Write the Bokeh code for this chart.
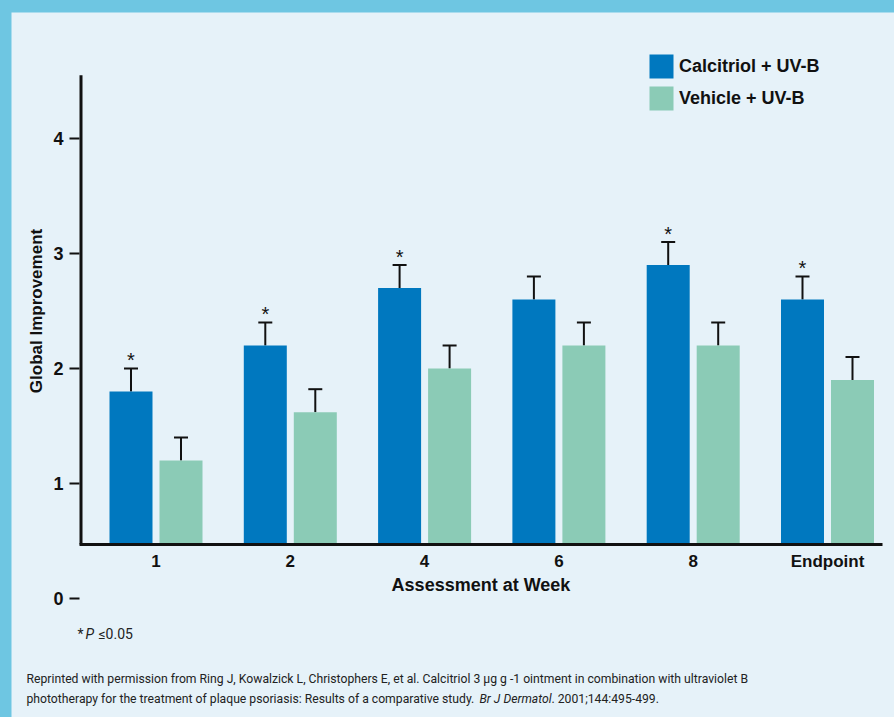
import numpy as np
from bokeh.plotting import figure
from bokeh.models import (ColumnDataSource, FixedTicker, Whisker, TeeHead, Label,
                          Legend, LegendItem, Range1d)
from bokeh.layouts import column
from bokeh.embed import file_html
from bokeh.resources import INLINE
from bokeh.core.properties import value

# ---- data ----
weeks = ["1", "2", "4", "6", "8", "Endpoint"]
calcitriol = [1.8, 2.2, 2.7, 2.6, 2.9, 2.6]
calcitriol_err = [0.2, 0.2, 0.2, 0.2, 0.2, 0.2]
vehicle = [1.2, 1.62, 2.0, 2.2, 2.2, 1.9]
vehicle_err = [0.2, 0.2, 0.2, 0.2, 0.2, 0.2]
significant = [True, True, True, False, True, True]
y_ticks = [0, 1, 2, 3, 4]
series_names = ["Calcitriol + UV-B", "Vehicle + UV-B"]
y_title = "Global Improvement"
x_title = "Assessment at Week"
footnote_sig = ["*", "P", "\u22640.05"]
ref_line1 = ("Reprinted with permission from Ring J, Kowalzick L, Christophers E, et al. "
             "Calcitriol 3 \u03bcg g -1 ointment in combination with ultraviolet B")
ref_line2 = ["phototherapy for the treatment of plaque psoriasis: Results of a comparative study.",
             "Br J Dermatol", ". 2001;144:495-499."]

# ---- style ----
BG = "#e6f2f9"
BORDER = "#6ec6e2"
C_CAL = "#0078bf"
C_VEH = "#8bcbb6"
INK = "#111111"
FONT = "Liberation Sans"
NOTE_FONT = "Roboto"

W, H = 883, 705
px_x = 134.3          # pixels per group
px_y = 115.0          # pixels per unit of improvement
axis_x = -0.5696      # where the value axis stands
x_start = axis_x - 68 / px_x
x_end = x_start + W / px_x
y_bottom = -1.0348
y_top = y_bottom + H / px_y
baseline = 0.47
axis_top = 4.55
bar_w = 43 / px_x
off = 25 / px_x

x = np.arange(len(weeks))
src = ColumnDataSource(dict(
    xc=x - off, xv=x + off,
    cal=calcitriol, veh=vehicle,
    cal_hi=[a + b for a, b in zip(calcitriol, calcitriol_err)],
    veh_hi=[a + b for a, b in zip(vehicle, vehicle_err)],
))

p = figure(width=W, height=H, output_backend="svg", toolbar_location=None,
           x_range=Range1d(x_start, x_end), y_range=Range1d(y_bottom, y_top),
           min_border=0, min_border_left=0, min_border_right=0,
           min_border_top=0, min_border_bottom=0,
           background_fill_color=BG, border_fill_color=BG, outline_line_color=None)
p.grid.visible = False

r_cal = p.vbar(x="xc", top="cal", bottom=baseline, width=bar_w, fill_color=C_CAL,
               line_color=None, source=src)
r_veh = p.vbar(x="xv", top="veh", bottom=baseline, width=bar_w, fill_color=C_VEH,
               line_color=None, source=src)

for lo, hi, base in (("cal", "cal_hi", "xc"), ("veh", "veh_hi", "xv")):
    w = Whisker(base=base, lower=lo, upper=hi, source=src, dimension="height",
                line_color=INK, line_width=2, lower_head=None,
                upper_head=TeeHead(size=14, line_color=INK, line_width=2))
    p.add_layout(w)

sx = [xi - off for xi, s in zip(x, significant) if s]
sy = [c + e for c, e, s in zip(calcitriol, calcitriol_err, significant) if s]
p.text(x=sx, y=sy, text=["*"] * len(sx), text_align="center", text_baseline="alphabetic",
       text_font=value(FONT), text_font_size="20px", text_color=INK, y_offset=-8)

# value-axis line (stops at the x axis)
xl = axis_x + 1.5 / px_x
p.segment(x0=[xl], y0=[baseline], x1=[xl], y1=[axis_top], line_color=INK, line_width=3)

# axes
ya = p.yaxis[0]
ya.fixed_location = axis_x
ya.bounds = (0, 5.0)
ya.ticker = FixedTicker(ticks=y_ticks)
ya.axis_line_color = None
ya.major_tick_line_color = INK
ya.major_tick_line_width = 2
ya.major_tick_out = 10
ya.major_tick_in = 0
ya.minor_tick_line_color = None
ya.major_label_standoff = 6
ya.major_label_text_font = FONT
ya.major_label_text_font_style = "bold"
ya.major_label_text_font_size = "18px"
ya.major_label_text_color = INK
ya.axis_label = y_title
ya.axis_label_text_font = FONT
ya.axis_label_text_font_style = "bold"
ya.axis_label_text_font_size = "17px"
ya.axis_label_text_color = INK
ya.axis_label_standoff = 4

xa = p.xaxis[0]
xa.fixed_location = baseline
xa.bounds = (axis_x, x_end - 12 / px_x)
xa.ticker = FixedTicker(ticks=[int(i) for i in x])
xa.major_label_overrides = {int(i): w for i, w in zip(x, weeks)}
xa.axis_line_color = INK
xa.axis_line_width = 3
xa.major_tick_line_color = None
xa.major_tick_out = 0
xa.major_tick_in = 0
xa.minor_tick_line_color = None
xa.major_label_standoff = 8
xa.major_label_text_font = FONT
xa.major_label_text_font_style = "bold"
xa.major_label_text_font_size = "17px"
xa.major_label_text_color = INK
xa.axis_label = x_title
xa.axis_label_text_font = FONT
xa.axis_label_text_font_style = "bold"
xa.axis_label_text_font_size = "18px"
xa.axis_label_text_color = INK
xa.axis_label_standoff = 0

legend = Legend(items=[LegendItem(label=series_names[0], renderers=[r_cal]),
                       LegendItem(label=series_names[1], renderers=[r_veh])],
                location=(635, 604), orientation="vertical",
                glyph_width=30, glyph_height=30, spacing=2, padding=0, margin=0,
                border_line_color=None, background_fill_alpha=0,
                label_text_font=FONT, label_text_font_style="bold",
                label_text_font_size="18px", label_text_color=INK, label_standoff=3)
p.add_layout(legend)

def note(txt, xs, ys, style="normal", size="12.2px"):
    p.add_layout(Label(x=xs, y=ys, x_units="screen", y_units="screen", text=txt,
                       text_font=NOTE_FONT, text_font_style=style, text_font_size=size,
                       text_color="#222222", text_baseline="middle", text_align="left"))

note(footnote_sig[0], 66, 84, size="14px")
note(footnote_sig[1], 74, 84, "italic", size="14px")
note(footnote_sig[2], 87, 84, size="14px")
note(ref_line1, 15, 39)
note(ref_line2[0], 15, 19)
note(ref_line2[1], 468, 19, "italic")
note(ref_line2[2], 540, 19)

layout = column(p, styles={"background-color": BORDER, "padding-top": "12px",
                           "padding-left": "11px"})
open("out.html", "w").write(file_html(layout, INLINE))
